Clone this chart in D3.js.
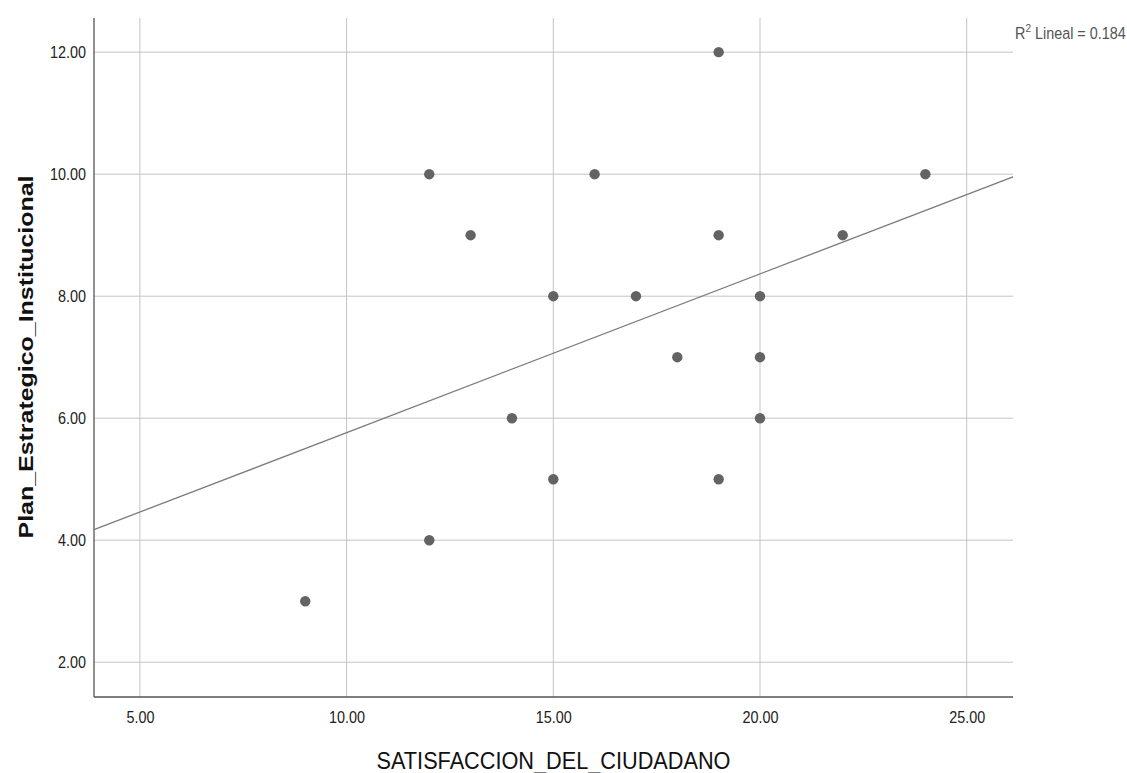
<!DOCTYPE html>
<html>
<head>
<meta charset="utf-8">
<script src="https://cdn.jsdelivr.net/npm/d3@7"></script>
<style>
    body { margin: 0; background: #fff; }
    svg { display: block; font-family: Arial, "Liberation Sans", sans-serif; }
    .grid line { stroke: #c4c4c4; stroke-width: 1; }
    .axis path { stroke: #555; stroke-width: 1.3; }
    .axis text { fill: #222; font-size: 14.4px; }
</style>
</head>
<body>
<div id="chart"></div>
<script>
// SATISFACCION_DEL_CIUDADANO (x) vs Plan_Estrategico_Institucional (y)
const satisfaccion = [9, 12, 12, 13, 14, 15, 15, 16, 17, 18, 19, 19, 19, 20, 20, 20, 22, 24];
const planEstrategico = [3, 10, 4, 9, 6, 8, 5, 10, 8, 7, 12, 9, 5, 8, 7, 6, 9, 10];
const xTicks = [5, 10, 15, 20, 25];
const yTicks = [2, 4, 6, 8, 10, 12];
const xDomain = [3.89, 26.12];
const yDomain = [1.43, 12.56];

const width = 1127, height = 773;
const plot = {left: 94, right: 1013, top: 18, bottom: 697};
const stretch = 1.18; // labels in the source look vertically stretched

const svg = d3.select("#chart")
    .append("svg")
    .attr("width", width)
    .attr("height", height);

const x = d3.scaleLinear().domain(xDomain).range([plot.left, plot.right]);
const y = d3.scaleLinear().domain(yDomain).range([plot.bottom, plot.top]);

// gridlines
const grid = svg.append("g").attr("class", "grid");
grid.selectAll(".gx")
    .data(xTicks)
    .join("line")
    .attr("x1", d => x(d)).attr("x2", d => x(d))
    .attr("y1", plot.top).attr("y2", plot.bottom);
grid.selectAll(".gy")
    .data(yTicks)
    .join("line")
    .attr("x1", plot.left).attr("x2", plot.right)
    .attr("y1", d => y(d)).attr("y2", d => y(d));

// axes
const xAxis = svg.append("g")
    .attr("class", "axis")
    .attr("transform", `translate(0,${plot.bottom})`)
    .call(d3.axisBottom(x).tickValues(xTicks).tickSize(0).tickSizeOuter(0).tickFormat(d3.format(".2f")));
xAxis.selectAll("text")
    .attr("y", 0).attr("dy", 0)
    .attr("transform", `translate(0,26) scale(1,${stretch})`);
xAxis.select(".domain").attr("d", `M${plot.left},0H${plot.right}`);

const yAxis = svg.append("g")
    .attr("class", "axis")
    .attr("transform", `translate(${plot.left},0)`)
    .call(d3.axisLeft(y).tickValues(yTicks).tickSize(0).tickSizeOuter(0).tickFormat(d3.format(".2f")));
yAxis.selectAll("text")
    .attr("x", 0).attr("dy", 0)
    .attr("transform", `translate(-8,5.5) scale(1,${stretch})`);
yAxis.select(".domain").attr("d", `M0,${plot.top}V${plot.bottom}`);

// least squares fit
const mx = d3.mean(satisfaccion), my = d3.mean(planEstrategico);
let sxy = 0, sxx = 0, syy = 0;
satisfaccion.forEach((v, i) => {
    sxy += (v - mx) * (planEstrategico[i] - my);
    sxx += (v - mx) ** 2;
    syy += (planEstrategico[i] - my) ** 2;
});
const slope = sxy / sxx;
const intercept = my - slope * mx;
const r2 = (sxy * sxy) / (sxx * syy);

svg.append("line")
    .attr("x1", x(xDomain[0])).attr("y1", y(intercept + slope * xDomain[0]))
    .attr("x2", x(xDomain[1])).attr("y2", y(intercept + slope * xDomain[1]))
    .attr("stroke", "#7a7a7a")
    .attr("stroke-width", 1.3);

// points
svg.selectAll(".dot")
    .data(satisfaccion.map((v, i) => ({x: v, y: planEstrategico[i]})))
    .join("circle")
    .attr("class", "dot")
    .attr("cx", d => x(d.x))
    .attr("cy", d => y(d.y))
    .attr("r", 5.2)
    .attr("fill", "#636363");

// R2 label
const r2Label = svg.append("text")
    .attr("transform", `translate(1015,39) scale(1,${stretch})`)
    .attr("fill", "#555")
    .style("font-size", "14.4px");
r2Label.append("tspan").text("R");
r2Label.append("tspan").attr("dy", -6).style("font-size", "10px").text("2");
r2Label.append("tspan").attr("dy", 6).text(` Lineal = ${r2.toFixed(3)}`);

// axis titles
svg.append("text")
    .attr("transform", `translate(${(plot.left + plot.right) / 2 + 0},769) scale(1,1.13)`)
    .attr("text-anchor", "middle")
    .attr("fill", "#111")
    .style("font-size", "21.7px")
    .text("SATISFACCION_DEL_CIUDADANO");

svg.append("text")
    .attr("transform", `translate(33,357) rotate(-90)`)
    .attr("text-anchor", "middle")
    .attr("fill", "#111")
    .attr("textLength", 363)
    .attr("lengthAdjust", "spacingAndGlyphs")
    .style("font-size", "21px")
    .style("font-weight", "bold")
    .text("Plan_Estrategico_Institucional");
</script>
</body>
</html>
